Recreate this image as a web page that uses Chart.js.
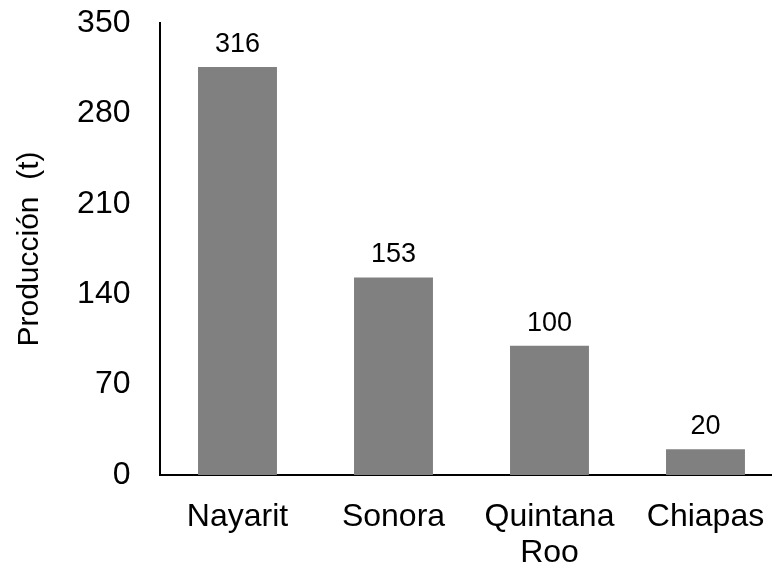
<!DOCTYPE html>
<html>
<head>
<meta charset="utf-8">
<script src="https://cdn.jsdelivr.net/npm/chart.js@4/dist/chart.umd.min.js"></script>
<style>
  html, body { margin: 0; padding: 0; background: #fff; overflow: hidden; }
  #wrap { width: 772px; height: 563px; overflow: hidden; position: relative; }
  canvas { position: absolute; left: 0; top: 0; }
</style>
</head>
<body>
<div id="wrap"><canvas id="c" width="790" height="563"></canvas></div>
<script>
// Producción por estado (toneladas)
const categories = [['Nayarit'], ['Sonora'], ['Quintana', 'Roo'], ['Chiapas']];
const produccion = [316, 153, 100, 20];
const yTicks = [0, 70, 140, 210, 280, 350];

const FONT = 'Liberation Sans, Arial, sans-serif';

// Writes each bar's value just above it
const valueLabels = {
  id: 'valueLabels',
  afterDatasetsDraw(chart) {
    const ctx = chart.ctx;
    const meta = chart.getDatasetMeta(0);
    ctx.save();
    ctx.font = '27px ' + FONT;
    ctx.fillStyle = '#000';
    ctx.textAlign = 'center';
    ctx.textBaseline = 'alphabetic';
    meta.data.forEach((bar, i) => {
      ctx.fillText(String(chart.data.datasets[0].data[i]), bar.x, bar.y - 15);
    });
    ctx.restore();
  }
};

new Chart(document.getElementById('c'), {
  type: 'bar',
  data: {
    labels: categories,
    datasets: [{
      data: produccion,
      backgroundColor: '#808080',
      borderWidth: 0,
      barPercentage: 0.506,
      categoryPercentage: 1.0
    }]
  },
  options: {
    responsive: false,
    animation: false,
    events: [],
    layout: { padding: { left: 0, top: 23, right: 6.5, bottom: 0 } },
    plugins: {
      legend: { display: false },
      tooltip: { enabled: false }
    },
    scales: {
      x: {
        grid: { display: false, drawTicks: false },
        border: { display: true, color: '#000', width: 2 },
        ticks: {
          color: '#000',
          font: { family: FONT, size: 32, lineHeight: 1.1 },
          padding: 25,
          maxRotation: 0,
          autoSkip: false
        },
        afterFit(scale) { scale.height = 88; }
      },
      y: {
        min: 0,
        max: 350,
        afterBuildTicks(scale) { scale.ticks = yTicks.map(v => ({ value: v })); },
        grid: { display: false, drawTicks: false },
        border: { display: true, color: '#000', width: 2 },
        ticks: {
          color: '#000',
          font: { family: FONT, size: 32 },
          padding: 29
        },
        title: {
          display: true,
          text: 'Producción  (t)',
          color: '#000',
          font: { family: FONT, size: 30, lineHeight: 1.2 },
          padding: { top: 12, bottom: 0 }
        },
        afterFit(scale) {
          scale.width = 159.5;
          scale.paddingTop = 0;
          scale.paddingBottom = 0;
        }
      }
    }
  },
  plugins: [valueLabels]
});
</script>
</body>
</html>
